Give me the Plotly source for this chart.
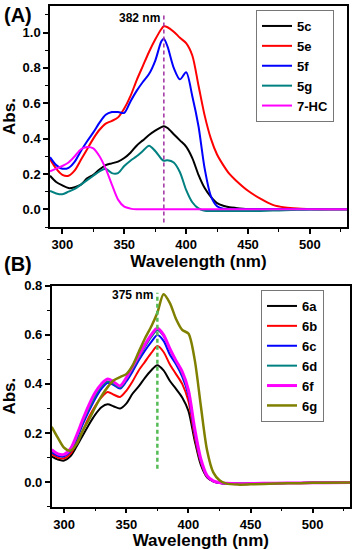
import plotly.graph_objects as go

# ---------------- Panel A data ----------------
wl_a = [290, 295, 300, 305, 310, 315, 320, 325, 330, 335, 340, 345, 350, 355, 360,
        365, 370, 375, 380, 382, 385, 390, 395, 400, 405, 410, 415, 420, 425, 430,
        435, 440, 450, 460, 470, 480, 490, 500, 515, 530]
abs_5c = [0.19, 0.155, 0.135, 0.12, 0.125, 0.14, 0.175, 0.195, 0.225, 0.25, 0.26, 0.27, 0.29, 0.32, 0.36,
          0.39, 0.42, 0.445, 0.465, 0.47, 0.46, 0.425, 0.39, 0.355, 0.29, 0.195, 0.12, 0.07, 0.035, 0.02,
          0.012, 0.008, 0.002, 0.0, 0.0, 0.0, 0.0, 0.0, 0.0, 0.0]
abs_5e = [0.285, 0.23, 0.195, 0.19, 0.22, 0.28, 0.34, 0.40, 0.45, 0.485, 0.50, 0.52, 0.57, 0.64, 0.73,
          0.81, 0.89, 0.96, 1.02, 1.035, 1.03, 1.005, 0.97, 0.94, 0.87, 0.70, 0.53, 0.40, 0.31, 0.25,
          0.20, 0.165, 0.105, 0.06, 0.025, 0.01, 0.004, 0.002, 0.0, 0.0]
abs_5f = [0.295, 0.25, 0.23, 0.235, 0.27, 0.33, 0.385, 0.435, 0.49, 0.535, 0.55, 0.55, 0.545, 0.61, 0.67,
          0.72, 0.765, 0.84, 0.95, 0.965, 0.92, 0.80, 0.735, 0.775, 0.64, 0.47, 0.23, 0.075, 0.018, 0.003,
          0.0, 0.0, 0.0, 0.0, 0.0, 0.0, 0.0, 0.0, 0.0, 0.0]
abs_5g = [0.104, 0.09, 0.085, 0.10, 0.115, 0.14, 0.165, 0.19, 0.215, 0.23, 0.205, 0.205, 0.245, 0.275, 0.30,
          0.33, 0.36, 0.33, 0.285, 0.275, 0.278, 0.265, 0.21, 0.11, 0.04, 0.005, -0.008, -0.01, -0.01, -0.01,
          -0.01, -0.01, -0.01, -0.009, -0.007, -0.005, -0.003, -0.001, 0.0, 0.0]
abs_7hc = [0.215, 0.23, 0.245, 0.265, 0.30, 0.34, 0.353, 0.345, 0.30, 0.23, 0.14, 0.055, 0.015, 0.004, 0.0,
           0.0, 0.0, 0.0, 0.0, 0.0, 0.0, 0.0, 0.0, 0.0, 0.0, 0.0, 0.0, 0.0, 0.0, 0.0,
           0.0, 0.0, 0.0, 0.0, 0.0, 0.0, 0.0, 0.0, 0.0, 0.0]
names_a = ["5c", "5e", "5f", "5g", "7-HC"]
series_a = [abs_5c, abs_5e, abs_5f, abs_5g, abs_7hc]
colors_a = ["#000000", "#ff0000", "#0000ff", "#008080", "#ff00ff"]
peak_a = 382
peak_a_span = [-0.075, 1.11]

# ---------------- Panel B data ----------------
wl_b = [290, 295, 300, 305, 310, 315, 320, 325, 330, 335, 340, 345, 350, 355, 360,
        365, 370, 375, 380, 385, 390, 395, 400, 405, 410, 415, 420, 425, 430, 440,
        450, 470, 490, 510, 530]
abs_6a = [0.105, 0.092, 0.088, 0.105, 0.145, 0.19, 0.235, 0.275, 0.305, 0.317, 0.308, 0.30, 0.32, 0.36, 0.39,
          0.425, 0.455, 0.476, 0.455, 0.413, 0.38, 0.345, 0.29, 0.17, 0.07, 0.02, 0.003, -0.004, -0.006, -0.007,
          -0.006, -0.004, -0.003, -0.002, -0.001]
abs_6b = [0.115, 0.10, 0.097, 0.115, 0.16, 0.21, 0.265, 0.31, 0.345, 0.367, 0.356, 0.347, 0.372, 0.41, 0.455,
          0.49, 0.525, 0.554, 0.53, 0.48, 0.44, 0.40, 0.33, 0.185, 0.08, 0.02, 0.003, -0.003, -0.006, -0.007,
          -0.006, -0.004, -0.003, -0.002, -0.001]
abs_6c = [0.122, 0.107, 0.105, 0.125, 0.175, 0.235, 0.29, 0.34, 0.38, 0.405, 0.395, 0.381, 0.41, 0.45, 0.495,
          0.535, 0.57, 0.599, 0.575, 0.52, 0.48, 0.43, 0.355, 0.20, 0.085, 0.022, 0.003, -0.003, -0.006, -0.007,
          -0.006, -0.004, -0.003, -0.002, -0.001]
abs_6d = [0.128, 0.112, 0.11, 0.13, 0.18, 0.245, 0.30, 0.35, 0.39, 0.41, 0.40, 0.385, 0.418, 0.46, 0.505,
          0.55, 0.59, 0.619, 0.595, 0.54, 0.49, 0.44, 0.365, 0.21, 0.09, 0.025, 0.004, -0.003, -0.006, -0.007,
          -0.006, -0.004, -0.003, -0.002, -0.001]
abs_6f = [0.132, 0.115, 0.113, 0.135, 0.19, 0.255, 0.315, 0.365, 0.40, 0.42, 0.408, 0.392, 0.425, 0.47, 0.515,
          0.56, 0.60, 0.628, 0.60, 0.545, 0.495, 0.45, 0.375, 0.22, 0.095, 0.027, 0.005, -0.002, -0.005, -0.007,
          -0.006, -0.004, -0.003, -0.002, -0.001]
abs_6g = [0.225, 0.18, 0.14, 0.128, 0.155, 0.21, 0.255, 0.305, 0.35, 0.387, 0.415, 0.428, 0.44, 0.475, 0.53,
          0.585, 0.633, 0.69, 0.765, 0.73, 0.665, 0.62, 0.605, 0.50, 0.31, 0.13, 0.04, 0.008, -0.005, -0.01,
          -0.009, -0.006, -0.004, -0.002, -0.001]
names_b = ["6a", "6b", "6c", "6d", "6f", "6g"]
series_b = [abs_6a, abs_6b, abs_6c, abs_6d, abs_6f, abs_6g]
colors_b = ["#000000", "#ff0000", "#0000ff", "#008080", "#ff00ff", "#808000"]
widths_b = [2, 2, 2, 2, 3, 2.5]
peak_b = 375
peak_b_span = [0.055, 0.771]

x_ticks = [300, 350, 400, 450, 500]

FONT = "Liberation Sans, Arial, sans-serif"
W, H = 354, 550

fig = go.Figure()

for name, ys, col in zip(names_a, series_a, colors_a):
    fig.add_trace(go.Scatter(x=wl_a, y=ys, name=name, mode="lines",
                             line=dict(color=col, width=2, shape="spline", smoothing=0.8),
                             xaxis="x", yaxis="y", legend="legend"))
fig.add_trace(go.Scatter(x=[peak_a, peak_a], y=peak_a_span, mode="lines", showlegend=False,
                         line=dict(color="#a030a0", width=1.5, dash="4px,3px"),
                         xaxis="x", yaxis="y"))

for name, ys, col, w in zip(names_b, series_b, colors_b, widths_b):
    fig.add_trace(go.Scatter(x=wl_b, y=ys, name=name, mode="lines",
                             line=dict(color=col, width=w, shape="spline", smoothing=0.8),
                             xaxis="x2", yaxis="y2", legend="legend2"))
fig.add_trace(go.Scatter(x=[peak_b, peak_b], y=peak_b_span, mode="lines", showlegend=False,
                         line=dict(color="#55bb55", width=2.5, dash="4px,3px"),
                         xaxis="x2", yaxis="y2"))

axis_common = dict(showline=True, linecolor="black", linewidth=1.5, mirror=True,
                   ticks="outside", ticklen=5, tickwidth=1.5, tickcolor="black",
                   showgrid=False, zeroline=False,
                   tickfont=dict(family=FONT, size=13, color="black", weight="bold"),
                   automargin=False)

xa = dict(axis_common, range=[290, 530], tickvals=x_ticks,
          minor=dict(ticks="outside", ticklen=3, tickwidth=1.2, dtick=25, tick0=300, tickcolor="black"),
          title=dict(text="Wavelength (nm)", standoff=2,
                     font=dict(family=FONT, size=17, color="black", weight="bold")))

fig.update_layout(
    width=W, height=H,
    margin=dict(l=0, r=0, t=0, b=0),
    paper_bgcolor="white", plot_bgcolor="white",
    font=dict(family=FONT, color="black", weight="bold"),
    xaxis=dict(xa, domain=[50 / W, 347 / W], anchor="y"),
    yaxis=dict(axis_common, domain=[1 - 227 / H, 1 - 6 / H], anchor="x",
               range=[-0.1, 1.15], tickvals=[0.0, 0.2, 0.4, 0.6, 0.8, 1.0], tickformat=".1f",
               minor=dict(ticks="outside", ticklen=3, tickwidth=1.2, dtick=0.1, tick0=0, tickcolor="black"),
               title=dict(text="Abs.", standoff=5,
                          font=dict(family=FONT, size=17, color="black", weight="bold"))),
    xaxis2=dict(xa, domain=[51.7 / W, 350 / W], anchor="y2"),
    yaxis2=dict(axis_common, domain=[1 - 506.7 / H, 1 - 285.7 / H], anchor="x2",
                range=[-0.1, 0.8], tickvals=[0.0, 0.2, 0.4, 0.6, 0.8], tickformat=".1f",
                minor=dict(ticks="outside", ticklen=3, tickwidth=1.2, dtick=0.1, tick0=0, tickcolor="black"),
                title=dict(text="Abs.", standoff=5,
                           font=dict(family=FONT, size=17, color="black", weight="bold"))),
    legend=dict(x=334 / W, y=1 - 10 / H, xanchor="right", yanchor="top",
                bordercolor="#777777", borderwidth=1, bgcolor="white",
                font=dict(family=FONT, size=13, color="black", weight="bold"),
                tracegroupgap=0, itemwidth=30),
    legend2=dict(x=324 / W, y=1 - 356 / H, xanchor="right", yanchor="middle",
                 bordercolor="#777777", borderwidth=1, bgcolor="white",
                 font=dict(family=FONT, size=13, color="black", weight="bold"),
                 tracegroupgap=0, itemwidth=30),
    annotations=[
        dict(text="(A)", xref="paper", yref="paper", x=2 / W, y=1 - 14.5 / H,
             xanchor="left", yanchor="middle", showarrow=False,
             font=dict(family=FONT, size=20, color="black", weight="bold")),
        dict(text="(B)", xref="paper", yref="paper", x=2 / W, y=1 - 264 / H,
             xanchor="left", yanchor="middle", showarrow=False,
             font=dict(family=FONT, size=20, color="black", weight="bold")),
        dict(text="382 nm", xref="x", yref="y", x=380.5, y=1.08,
             xanchor="right", yanchor="middle", showarrow=False,
             font=dict(family=FONT, size=12, color="black", weight="bold")),
        dict(text="375 nm", xref="x2", yref="y2", x=373, y=0.762,
             xanchor="right", yanchor="middle", showarrow=False,
             font=dict(family=FONT, size=12, color="black", weight="bold")),
    ],
)

fig.write_html("out.html", config={"displayModeBar": False},
               post_script="document.body.style.margin='0px';document.body.style.padding='0px';")
